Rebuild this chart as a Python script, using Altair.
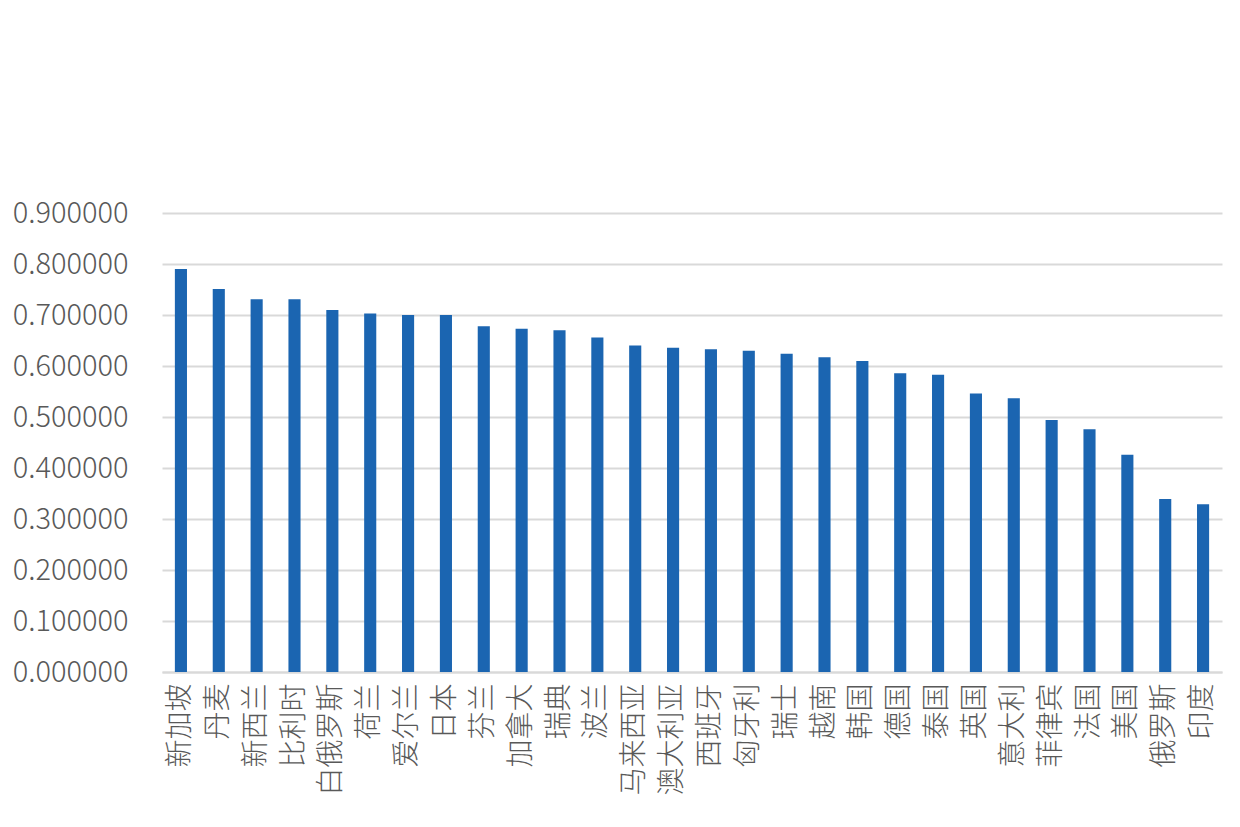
import altair as alt
import pandas as pd

countries = ["新加坡", "丹麦", "新西兰", "比利时", "白俄罗斯", "荷兰", "爱尔兰", "日本", "芬兰",
             "加拿大", "瑞典", "波兰", "马来西亚", "澳大利亚", "西班牙", "匈牙利", "瑞士", "越南",
             "韩国", "德国", "泰国", "英国", "意大利", "菲律宾", "法国", "美国", "俄罗斯", "印度"]
values = [0.790, 0.751, 0.731, 0.731, 0.710, 0.703, 0.700, 0.700, 0.678,
          0.673, 0.670, 0.656, 0.640, 0.636, 0.633, 0.630, 0.624, 0.617,
          0.610, 0.586, 0.583, 0.546, 0.537, 0.494, 0.476, 0.426, 0.339, 0.329]
y_ticks = [0.0, 0.1, 0.2, 0.3, 0.4, 0.5, 0.6, 0.7, 0.8, 0.9]

df = pd.DataFrame({"country": countries, "value": values})

font = "Noto Sans CJK SC"

chart = alt.Chart(df).mark_bar(color="#1B65B1").encode(
    x=alt.X("country:N", sort=countries,
            scale=alt.Scale(paddingInner=0.68, paddingOuter=0.34),
            axis=alt.Axis(title=None, labelAngle=-90, labelFontSize=28, labelFont=font,
                          labelFontWeight=300, labelColor="#595959", labelPadding=11,
                          ticks=False, domain=True, domainColor="#D9D9D9", domainWidth=2,
                          labelLimit=300)),
    y=alt.Y("value:Q", scale=alt.Scale(domain=[0, 0.9], nice=False),
            axis=alt.Axis(title=None, values=y_ticks, format=".6f", labelFontSize=29,
                          labelFont=font, labelFontWeight=300, labelColor="#595959",
                          labelPadding=34, ticks=False, domain=False,
                          gridColor="#D9D9D9", gridWidth=2)),
).properties(
    width=1060, height=459,
    autosize=alt.AutoSizeParams(type="none"),
    padding={"left": 154, "top": 205, "right": 10, "bottom": 150},
).configure(background="white").configure_view(strokeWidth=0)

chart.save("out.html", embed_options={"renderer": "svg", "actions": False})
